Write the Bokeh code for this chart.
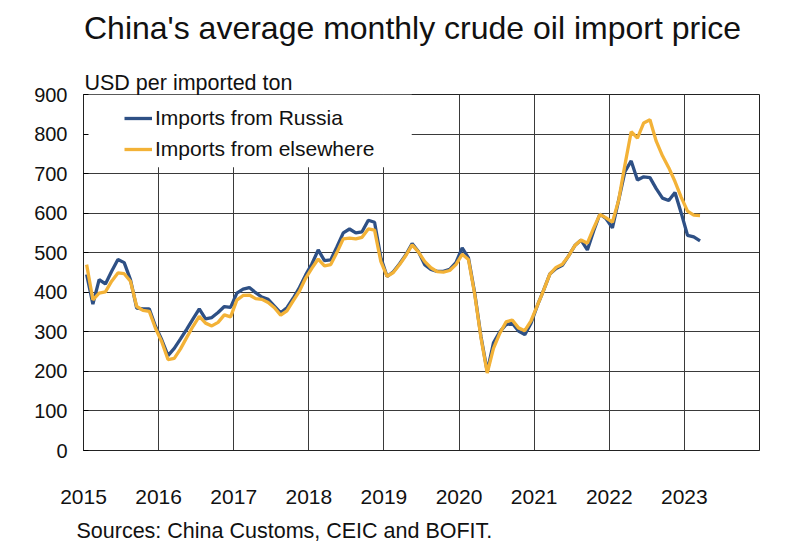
import pandas as pd
from bokeh.plotting import figure
from bokeh.layouts import column
from bokeh.models import (ColumnDataSource, Legend, LegendItem, Title, BoxAnnotation,
                          FixedTicker, Range1d, Div)
from bokeh.embed import file_html
from bokeh.resources import INLINE

# ---- data (USD per imported ton, monthly Jan 2015 - Mar 2023) ----
russia = [
    445, 370, 432, 421, 453, 483, 475, 432, 360, 358, 358, 314,   # 2015
    280, 240, 258, 282, 307, 333, 358, 333, 336, 349, 364, 362,   # 2016
    398, 408, 412, 399, 388, 382, 365, 348, 361, 385, 412, 444,   # 2017
    472, 507, 480, 482, 515, 550, 560, 550, 553, 582, 577, 488,   # 2018
    440, 452, 472, 495, 523, 503, 470, 458, 453, 453, 458, 475,   # 2019
    512, 487, 398, 288, 200, 272, 300, 318, 322, 302, 293, 322,   # 2020
    366, 405, 446, 460, 468, 492, 518, 532, 507, 555, 598, 586,   # 2021
    563, 633, 705, 732, 684, 692, 690, 662, 638, 632, 652, 600,   # 2022
    544, 540, 530,                                                # 2023
]
elsewhere = [
    470, 381, 398, 401, 428, 449, 447, 428, 364, 354, 352, 309,   # 2015
    275, 230, 233, 257, 286, 314, 339, 322, 315, 324, 343, 338,   # 2016
    380, 392, 393, 384, 382, 374, 361, 342, 353, 378, 403, 436,   # 2017
    461, 484, 467, 470, 501, 535, 537, 535, 539, 560, 557, 478,   # 2018
    440, 450, 470, 493, 520, 502, 478, 462, 452, 451, 455, 470,   # 2019
    496, 483, 395, 285, 196, 258, 296, 325, 330, 310, 303, 328,   # 2020
    366, 405, 446, 463, 471, 492, 518, 532, 524, 562, 597, 588,   # 2021
    577, 633, 722, 806, 790, 828, 836, 782, 745, 715, 680, 640,   # 2022
    605, 595, 594,                                                # 2023
]
months = pd.date_range("2015-01-01", periods=len(russia), freq="MS")
year_ticks = [2015, 2016, 2017, 2018, 2019, 2020, 2021, 2022, 2023]
year_grid = [2016, 2017, 2018, 2019, 2020, 2021, 2022, 2023, 2024]
y_ticks = [0, 100, 200, 300, 400, 500, 600, 700, 800, 900]

title_text = "China's average monthly crude oil import price"
unit_text = "USD per imported ton"
source_text = "Sources: China Customs, CEIC and BOFIT."
label_russia = "Imports from Russia"
label_else = "Imports from elsewhere"

# x position: middle of each month in decimal years
xpos = [d.year + (d.month - 0.5) / 12 for d in months]
src = ColumnDataSource(dict(x=xpos, russia=russia, elsewhere=elsewhere))

BLUE = "#2E5085"
ORANGE = "#F3B237"
GRID = "#3a3a3a"
TXT = "#111111"
FONT = "Liberation Sans"

TITLE_H = 52

title_div = Div(
    text=('<div style="font-family:\'Liberation Sans\',Arial,sans-serif;'
          'font-size:32px;line-height:32px;color:#111111;'
          'padding-top:12px;padding-left:84px;margin:0;white-space:nowrap;">'
          + title_text + '</div>'),
    width=807, height=TITLE_H, margin=0)

p = figure(width=807, height=559 - TITLE_H, output_backend="svg",
           toolbar_location=None, margin=0,
           x_range=Range1d(2015, 2024), y_range=Range1d(0, 900),
           min_border_left=83, min_border_right=48, min_border_top=94 - TITLE_H,
           min_border_bottom=109)
p.outline_line_color = "#222222"
p.outline_line_width = 1

# axes
p.yaxis.ticker = FixedTicker(ticks=y_ticks)
p.yaxis.major_label_text_font = FONT
p.yaxis.major_label_text_font_size = "20px"
p.yaxis.major_label_text_color = TXT
p.yaxis.major_tick_in = 5
p.yaxis.major_tick_out = 0
p.yaxis.minor_tick_line_color = None
p.yaxis.major_label_standoff = 16
p.yaxis.axis_line_color = "#222222"

p.xaxis.ticker = FixedTicker(ticks=year_ticks)
p.xaxis.major_label_text_font = FONT
p.xaxis.major_label_text_font_size = "21px"
p.xaxis.major_label_text_color = TXT
p.xaxis.major_tick_in = 0
p.xaxis.major_tick_out = 0
p.xaxis.minor_tick_line_color = None
p.xaxis.major_label_standoff = 39
p.xaxis.axis_line_color = "#222222"

p.xgrid.ticker = FixedTicker(ticks=year_grid)
p.ygrid.ticker = FixedTicker(ticks=y_ticks)
for g in (p.xgrid, p.ygrid):
    g.grid_line_color = GRID
    g.grid_line_width = 1
    g.grid_line_alpha = 1

# white area behind the legend (hides grid lines there)
p.add_layout(BoxAnnotation(left=2015, right=2019.37, bottom=716, top=900,
                           fill_color="white", fill_alpha=1, line_alpha=0,
                           level="underlay"))

r1 = p.line("x", "russia", source=src, line_color=BLUE, line_width=3.3)
r2 = p.line("x", "elsewhere", source=src, line_color=ORANGE, line_width=3.3)

legend = Legend(items=[LegendItem(label=label_russia, renderers=[r1]),
                       LegendItem(label=label_else, renderers=[r2])],
                location=(41, 289), padding=0, margin=0, spacing=7,
                glyph_width=28, glyph_height=24, label_height=24,
                label_standoff=3, label_text_font=FONT,
                label_text_font_size="21px", label_text_color=TXT,
                background_fill_alpha=0, border_line_alpha=0)
p.add_layout(legend)

# unit label just above the frame, source note below the axis
p.add_layout(Title(text=unit_text, align="left", offset=1, standoff=0,
                   text_font=FONT, text_font_size="21.5px",
                   text_font_style="normal", text_color=TXT), "above")
p.add_layout(Title(text=source_text, align="left", offset=-7, standoff=20,
                   text_font=FONT, text_font_size="21.5px",
                   text_font_style="normal", text_color=TXT), "below")

layout = column(title_div, p, spacing=0, margin=0)
open("out.html", "w").write(file_html(layout, INLINE))
